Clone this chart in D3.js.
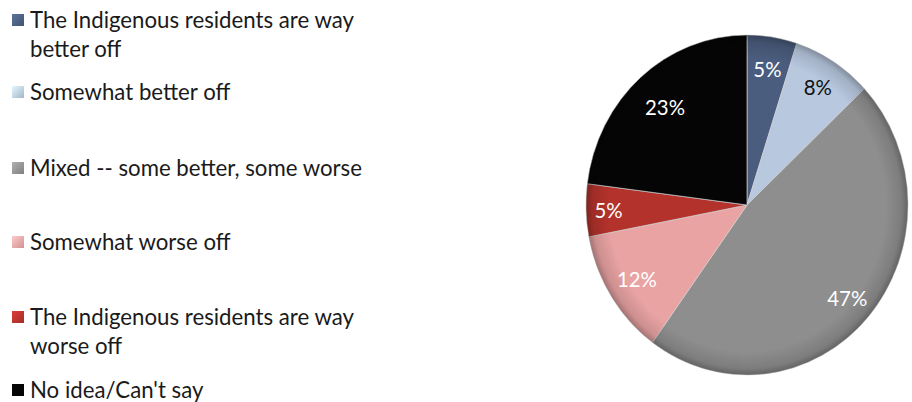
<!DOCTYPE html>
<html>
<head>
<meta charset="utf-8">
<script src="https://cdn.jsdelivr.net/npm/d3@7"></script>
<style>
  html, body { margin: 0; padding: 0; background: #ffffff; }
  svg { display: block; }
</style>
</head>
<body>
<svg id="chart" width="912" height="402"></svg>
<script>
// Survey answers, in clockwise order starting at 12 o'clock
const categories = [
  "The Indigenous residents are way better off",
  "Somewhat better off",
  "Mixed -- some better, some worse",
  "Somewhat worse off",
  "The Indigenous residents are way worse off",
  "No idea/Can't say"
];
const values = [5, 8, 47, 12, 5, 23];
const sliceColors = ["#4a5d7e", "#b8c8df", "#8e8e8e", "#e9a3a3", "#b3322b", "#050505"];
const labelColors = ["#ffffff", "#111111", "#ffffff", "#ffffff", "#ffffff", "#ffffff"];
// Legend text broken onto lines the way it wraps
const legendLines = [
  ["The Indigenous residents are way", "better off"],
  ["Somewhat better off"],
  ["Mixed -- some better, some worse"],
  ["Somewhat worse off"],
  ["The Indigenous residents are way", "worse off"],
  ["No idea/Can't say"]
];

const svg = d3.select("#chart");
const defs = svg.append("defs");
const font = "Lato, 'Open Sans', 'Liberation Sans', sans-serif";

// font size that makes a string span a given width
function fitSize(str, width, base) {
  const t = svg.append("text").attr("font-family", font).attr("font-size", base).text(str);
  const w = t.node().getComputedTextLength();
  t.remove();
  return base * width / w;
}
const legendSize = fitSize("The Indigenous residents are way", 324, 20);
const labelSize = fitSize("47%", 40, 20);

// ---- pie ----
const cx = 747, cy = 205, rx = 161, ry = 170;
const pie = d3.pie().sort(null).value(d => d)(values);
const arc = d3.arc().innerRadius(0).outerRadius(ry);

// rim shading gives the slices a soft bevelled look
const rim = defs.append("radialGradient").attr("id", "rim")
  .attr("cx", "50%").attr("cy", "50%").attr("r", "50%");
rim.append("stop").attr("offset", "0.86").attr("stop-color", "#000").attr("stop-opacity", 0);
rim.append("stop").attr("offset", "0.96").attr("stop-color", "#000").attr("stop-opacity", 0.12);
rim.append("stop").attr("offset", "1").attr("stop-color", "#000").attr("stop-opacity", 0.3);

const g = svg.append("g")
  .attr("transform", `translate(${cx},${cy}) scale(${rx / ry},1)`);

g.selectAll("path.slice").data(pie).join("path")
  .attr("class", "slice")
  .attr("d", arc)
  .attr("fill", (d, i) => sliceColors[i])
  .attr("stroke", "#d0d0d0")
  .attr("stroke-opacity", 0.7)
  .attr("stroke-width", 1);

g.append("circle").attr("r", ry).attr("fill", "url(#rim)").attr("pointer-events", "none");

// percentage labels placed on each slice
const labelRadius = [0.81, 0.82, 0.83, 0.81, 0.86, 0.77];
const lbl = svg.append("g");
pie.forEach((d, i) => {
  const a = (d.startAngle + d.endAngle) / 2;
  const r = ry * labelRadius[i];
  const x = cx + Math.sin(a) * r * (rx / ry);
  const y = cy - Math.cos(a) * r;
  lbl.append("text")
    .attr("x", x).attr("y", y)
    .attr("text-anchor", "middle")
    .attr("dominant-baseline", "central")
    .attr("font-family", font)
    .attr("font-size", labelSize)
    .attr("fill", labelColors[i])
    .text(values[i] + "%");
});

// ---- legend ----
const rowTop = [28, 100, 176, 250, 325, 398];   // baselines of the first line
const lineGap = 29;
const legend = svg.append("g");

categories.forEach((c, i) => {
  const grad = defs.append("linearGradient").attr("id", "lg" + i)
    .attr("x1", "0").attr("y1", "0").attr("x2", "1").attr("y2", "1");
  grad.append("stop").attr("offset", "0").attr("stop-color", d3.color(sliceColors[i]).brighter(0.6));
  grad.append("stop").attr("offset", "1").attr("stop-color", d3.color(sliceColors[i]).darker(0.3));
  legend.append("rect")
    .attr("x", 12).attr("y", rowTop[i] - 14)
    .attr("width", 12).attr("height", 12)
    .attr("fill", `url(#lg${i})`);
  const t = legend.append("text")
    .attr("font-family", font)
    .attr("font-size", legendSize)
    .attr("fill", "#1a1a1a");
  legendLines[i].forEach((line, j) => {
    t.append("tspan").attr("x", 30).attr("y", rowTop[i] + j * lineGap).text(line);
  });
});
</script>
</body>
</html>
